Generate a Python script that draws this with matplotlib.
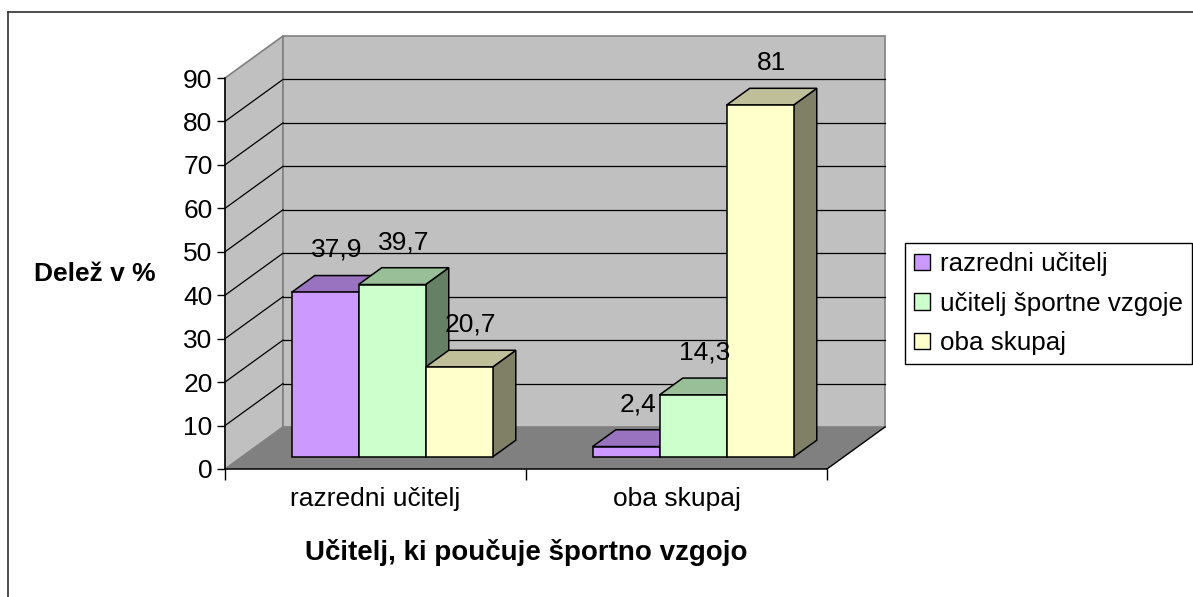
import matplotlib
matplotlib.use("Agg")
import matplotlib.pyplot as plt
from matplotlib.patches import Polygon, Patch
from matplotlib.lines import Line2D

plt.rcParams['font.family'] = ['Liberation Sans', 'DejaVu Sans']

# ---------------- data ----------------
categories = ['razredni učitelj', 'oba skupaj']
series_names = ['razredni učitelj', 'učitelj športne vzgoje', 'oba skupaj']
razredni = [37.9, 2.4]
sportni = [39.7, 14.3]
oba = [20.7, 81]
yticks = [0, 10, 20, 30, 40, 50, 60, 70, 80, 90]
ylabel = 'Delež v %'
xlabel = 'Učitelj, ki poučuje športno vzgojo'

values = [razredni, sportni, oba]
front_cols = ['#CC99FF', '#CCFFCC', '#FFFFCC']
top_cols = ['#9973BF', '#99BF99', '#BFBF99']
side_cols = ['#664C80', '#668066', '#808066']

W, H = 1193, 597
fig = plt.figure(figsize=(W / 100, H / 100), dpi=100)
fig.patch.set_facecolor('white')

# outer chart border (partially cropped in reference)
fig.add_artist(Line2D([8 / W, 8 / W], [0, 1 - 12 / H], color='#303030', lw=1.2))
fig.add_artist(Line2D([8 / W, 1], [1 - 12 / H, 1 - 12 / H], color='#303030', lw=1.2))

ax = fig.add_axes([225 / W, 1 - 469 / H, 602 / W, (469 - 78) / H])
ax.set_xlim(0, 2)
ax.set_ylim(0, 90)
ax.set_facecolor('none')

px_per_x = 602 / 2.0
px_per_y = (469 - 78) / 90.0
DX = 58 / px_per_x      # depth offset in x data units (full depth)
DV = 42 / px_per_y      # depth offset in value units (full depth)

# walls and floor
ax.add_patch(Polygon([(0, 0), (0, 90), (DX, 90 + DV), (DX, DV)], closed=True,
                     facecolor='#C0C0C0', edgecolor='#808080', lw=1.2, clip_on=False, zorder=1))
ax.add_patch(Polygon([(DX, DV), (DX, 90 + DV), (2 + DX, 90 + DV), (2 + DX, DV)], closed=True,
                     facecolor='#C0C0C0', edgecolor='#808080', lw=1.2, clip_on=False, zorder=1))
ax.add_patch(Polygon([(0, 0), (2, 0), (2 + DX, DV), (DX, DV)], closed=True,
                     facecolor='#808080', edgecolor='none', clip_on=False, zorder=2))
ax.plot([2, 2 + DX], [0, DV], color='black', lw=1, clip_on=False, zorder=3)

# gridlines
for v in yticks[1:-1]:
    ax.plot([0, DX], [v, v + DV], color='black', lw=0.9, clip_on=False, zorder=3)
    ax.plot([DX, 2 + DX], [v + DV, v + DV], color='black', lw=0.9, clip_on=False, zorder=3)

# bars
BW = 67 / px_per_x
z0 = 12 / 42
dd = 0.40
base = z0 * DV
for g in range(len(categories)):
    for s in range(len(series_names)):
        v = values[s][g]
        xl = g + 0.5 + (s - 1.5) * BW + z0 * DX
        zo = 10 + (g * 3 + s) * 3
        side = [(xl + BW, base), (xl + BW, base + v),
                (xl + BW + dd * DX, base + v + dd * DV), (xl + BW + dd * DX, base + dd * DV)]
        top = [(xl, base + v), (xl + BW, base + v),
               (xl + BW + dd * DX, base + v + dd * DV), (xl + dd * DX, base + v + dd * DV)]
        ax.add_patch(Polygon(side, closed=True, facecolor=side_cols[s], edgecolor='black',
                             lw=1.1, clip_on=False, zorder=zo, joinstyle='miter'))
        ax.add_patch(Polygon(top, closed=True, facecolor=top_cols[s], edgecolor='black',
                             lw=1.1, clip_on=False, zorder=zo + 1, joinstyle='miter'))
        ax.bar(xl, v, width=BW, bottom=base, align='edge', color=front_cols[s],
               edgecolor='black', lw=1.1, clip_on=False, zorder=zo + 2)
        lbl = f"{v:g}".replace('.', ',')
        ax.annotate(lbl, (xl + BW / 2 + dd * DX / 2, base + v + dd * DV / 2),
                    xytext=(0, 34), textcoords='offset pixels', ha='center', va='center',
                    fontsize=19, color='black', zorder=50, annotation_clip=False)

# axes styling
for sp in ['top', 'right']:
    ax.spines[sp].set_visible(False)
for sp in ['left', 'bottom']:
    ax.spines[sp].set_color('black')
    ax.spines[sp].set_linewidth(1.1)
    ax.spines[sp].set_zorder(4)
ax.set_yticks(yticks)
ax.set_yticklabels([str(t) for t in yticks], fontsize=19)
ax.tick_params(axis='y', direction='out', length=6, width=1, pad=3)
ax.set_xticks([0, 1, 2])
ax.set_xticklabels(['', '', ''])
ax.tick_params(axis='x', which='major', direction='out', length=8, width=1)
ax.set_xticks([0.5, 1.5], minor=True)
ax.set_xticklabels(categories, minor=True, fontsize=19)
ax.tick_params(axis='x', which='minor', length=0, pad=13)

fig.text(95 / W, 1 - 274 / H, ylabel, ha='center', va='center', fontsize=19, fontweight='bold')
fig.text(526 / W, 1 - 553 / H, xlabel, ha='center', va='center', fontsize=20, fontweight='bold')

handles = [Patch(facecolor=c, edgecolor='black', lw=1) for c in front_cols]
leg = fig.legend(handles, series_names, loc='upper left', bbox_to_anchor=(905 / W, 1 - 243 / H),
                 fontsize=18.7, frameon=True, fancybox=False, framealpha=1, edgecolor='black',
                 handlelength=0.6, handleheight=0.6, handletextpad=0.4, labelspacing=0.6,
                 borderpad=0.35, borderaxespad=0)
leg.get_frame().set_linewidth(1)

fig.savefig('out.png', dpi=100)
